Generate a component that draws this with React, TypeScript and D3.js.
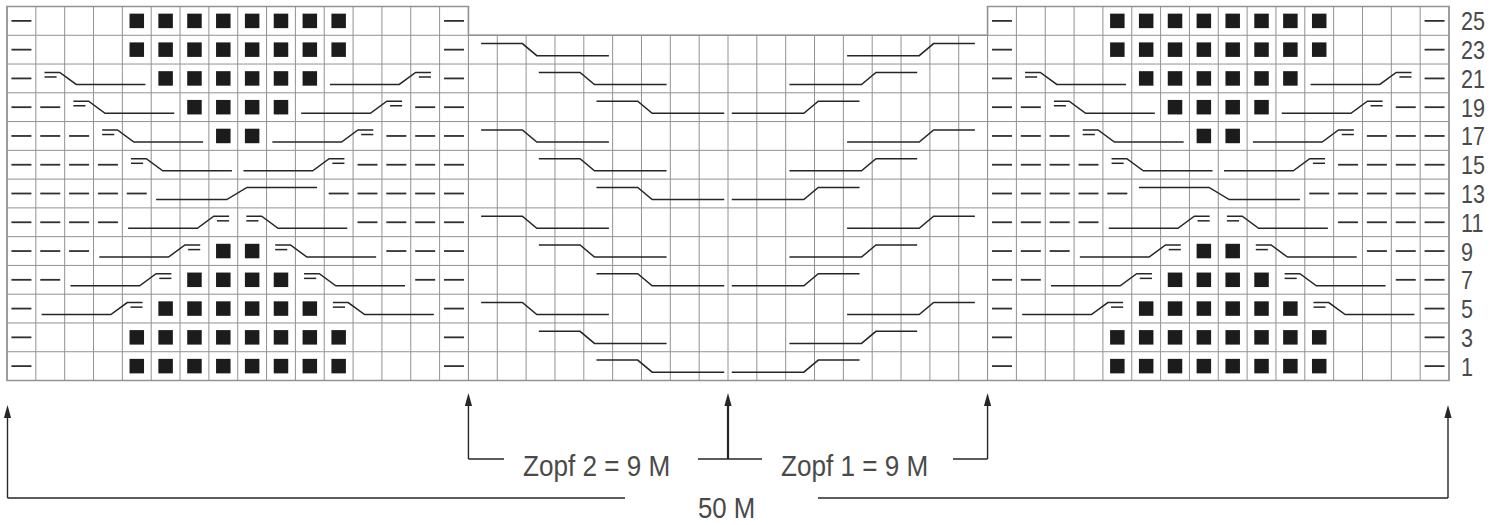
import * as d3 from "d3";

// chart row numbers, top row first
const rowNumbers = [25, 23, 21, 19, 17, 15, 13, 11, 9, 7, 5, 3, 1];

// side panels (16 st), top row first.
// "-" purl, "#" black square, D/A = 4-st cable down/up,
// U/V = 6-st cable up/down, "." = cell covered by the cable
const leftPanel = [
  "-   ########   -",
  "-   ########   -",
  "-D...######A...-",
  "--D...####A...--",
  "---D...##A...---",
  "----D...A...----",
  "-----U.....-----",
  "----A...D...----",
  "---A...##D...---",
  "--A...####D...--",
  "-A...######D...-",
  "-   ########   -",
  "-   ########   -",
];

const rightPanel = [
  "-   ########   -",
  "-   ########   -",
  "-D...######A...-",
  "--D...####A...--",
  "---D...##A...---",
  "----D...A...----",
  "-----V.....-----",
  "----A...D...----",
  "---A...##D...---",
  "--A...####D...--",
  "-A...######D...-",
  "-   ########   -",
  "-   ########   -",
];

// centre (Zopf 2 + Zopf 1, 18 st), rows 23..1; d/a = 5-st cable down/up
const centerPanel = [
  "d....        a....",
  "  d....    a....  ",
  "    d....a....    ",
  "d....        a....",
  "  d....    a....  ",
  "    d....a....    ",
  "d....        a....",
  "  d....    a....  ",
  "    d....a....    ",
  "d....        a....",
  "  d....    a....  ",
  "    d....a....    ",
];

const panelStartCols = [0, 16, 34];
const totalStitches = 50;
const zopfLabels = ["Zopf 2 = 9 M", "Zopf 1 = 9 M"];
const totalLabel = "50 M";

const WIDTH = 1504;
const HEIGHT = 525;
const GRID = { left: 7, right: 1449, top: 6.5, bottom: 380.5 };
const GRID_COLOR = "#929292";
const INK = "#262626";
const TEXT = "#4a4a4a";
const FONT = "'Liberation Sans', Arial, Helvetica, sans-serif";

type Shape = { n: number; s: number; p: number; q: number; e: number; dbl: boolean };
const SHAPES: Record<string, Shape> = {
  purl4: { n: 4, s: 0.3, p: 0.83, q: 1.4, e: 3.8, dbl: true },
  twist5: { n: 5, s: 0.44, p: 1.87, q: 2.37, e: 4.87, dbl: false },
  cross6: { n: 6, s: 0.25, p: 2.68, q: 3.38, e: 5.83, dbl: false },
};
const CABLE_KEYS: Record<string, [Shape, "down" | "up"]> = {
  D: [SHAPES.purl4, "down"],
  A: [SHAPES.purl4, "up"],
  d: [SHAPES.twist5, "down"],
  a: [SHAPES.twist5, "up"],
  V: [SHAPES.cross6, "down"],
  U: [SHAPES.cross6, "up"],
};

const x = d3.scaleLinear().domain([0, totalStitches]).range([GRID.left, GRID.right]);
const y = d3
  .scaleBand<number>()
  .domain(rowNumbers)
  .range([GRID.top, GRID.bottom])
  .padding(0);
const rowH = y.bandwidth();
const line = d3.line<[number, number]>();

function Arrow({ ax, tipY, baseY, width = 1.4 }: { ax: number; tipY: number; baseY: number; width?: number }) {
  return (
    <g>
      <line x1={ax} x2={ax} y1={baseY} y2={tipY + 8} stroke={INK} strokeWidth={width} />
      <path d={`M${ax},${tipY} L${ax - 3.6},${tipY + 13} L${ax + 3.6},${tipY + 13} Z`} fill={INK} />
    </g>
  );
}

function PanelMarks({ rows, startCol, rowList }: { rows: string[]; startCol: number; rowList: number[] }) {
  const w = x(1) - x(0);
  const sq = 14.5;
  const marks: JSX.Element[] = [];
  rows.forEach((row, ri) => {
    const rn = rowList[ri];
    const top = y(rn) as number;
    const cy = top + rowH / 2;
    row.split("").forEach((ch, ci) => {
      const c = startCol + ci;
      const key = `${rn}-${c}`;
      if (ch === "-") {
        const cx = x(c + 0.5);
        marks.push(
          <line key={key} x1={cx - 10} x2={cx + 10} y1={cy} y2={cy} stroke="#303030" strokeWidth={1.8} />
        );
      } else if (ch === "#") {
        const cx = x(c + 0.5);
        marks.push(
          <rect key={key} x={cx - sq / 2} y={cy - sq / 2} width={sq} height={sq} fill="#1c1c1c" />
        );
      } else if (CABLE_KEYS[ch]) {
        const [sh, dir] = CABLE_KEYS[ch];
        const yu = top + rowH * 0.29;
        const yl = top + rowH * 0.71;
        const y2 = top + rowH * 0.45;
        let pts: [number, number][];
        let dbl: [number, number][] | null = null;
        if (dir === "down") {
          pts = [
            [x(c + sh.s), yu],
            [x(c + sh.p), yu],
            [x(c + sh.q), yl],
            [x(c + sh.e), yl],
          ];
          if (sh.dbl) dbl = [[x(c + sh.s), y2], [x(c + sh.s) + 0.42 * w, y2]];
        } else {
          pts = [
            [x(c + sh.n - sh.e), yl],
            [x(c + sh.n - sh.q), yl],
            [x(c + sh.n - sh.p), yu],
            [x(c + sh.n - sh.s), yu],
          ];
          if (sh.dbl) dbl = [[x(c + sh.n - sh.s) - 0.42 * w, y2], [x(c + sh.n - sh.s), y2]];
        }
        marks.push(
          <g key={key}>
            <path d={line(pts) || ""} fill="none" stroke={INK} strokeWidth={1.5} />
            {dbl && <path d={line(dbl) || ""} fill="none" stroke={INK} strokeWidth={1.5} />}
          </g>
        );
      }
    });
  });
  return <g>{marks}</g>;
}

export default function App() {
  const centerRows = rowNumbers.slice(1);
  const sideCols = [
    [panelStartCols[0], panelStartCols[1]],
    [panelStartCols[2], totalStitches],
  ];
  const yTop = GRID.top;
  const yCenterTop = y(23) as number;
  const yBottom = GRID.bottom;

  const gridLines: JSX.Element[] = [];
  sideCols.forEach(([c0, c1], pi) => {
    d3.range(c0, c1 + 1).forEach((c) =>
      gridLines.push(
        <line key={`sv${pi}-${c}`} x1={x(c)} x2={x(c)} y1={yTop} y2={yBottom} stroke={GRID_COLOR} strokeWidth={1} />
      )
    );
    rowNumbers.forEach((rn) =>
      gridLines.push(
        <line key={`sh${pi}-${rn}`} x1={x(c0)} x2={x(c1)} y1={y(rn)} y2={y(rn)} stroke={GRID_COLOR} strokeWidth={1} />
      )
    );
  });
  d3.range(panelStartCols[1], panelStartCols[2] + 1).forEach((c) =>
    gridLines.push(
      <line key={`cv-${c}`} x1={x(c)} x2={x(c)} y1={yCenterTop} y2={yBottom} stroke={GRID_COLOR} strokeWidth={1} />
    )
  );
  centerRows.forEach((rn) =>
    gridLines.push(
      <line key={`ch-${rn}`} x1={x(panelStartCols[1])} x2={x(panelStartCols[2])} y1={y(rn)} y2={y(rn)} stroke={GRID_COLOR} strokeWidth={1} />
    )
  );

  const outline = [
    `M${x(0)},${yTop}`,
    `H${x(panelStartCols[1])}`,
    `V${yCenterTop}`,
    `H${x(panelStartCols[2])}`,
    `V${yTop}`,
    `H${x(totalStitches)}`,
    `V${yBottom}`,
    `H${x(0)}`,
    "Z",
  ].join(" ");

  const zopfTip = 393;
  const outerTip = 405;
  const bracketY = 459;
  const totalY = 498;
  const xL = x(panelStartCols[1]);
  const xM = x(totalStitches / 2);
  const xR = x(panelStartCols[2]);

  return (
    <div>
      <style>{`body{margin:0;background:#fff}`}</style>
      <svg width={WIDTH} height={HEIGHT} style={{ display: "block" }} fontFamily={FONT}>
        <rect width={WIDTH} height={HEIGHT} fill="#fff" />
        {gridLines}
        <path d={outline} fill="none" stroke={GRID_COLOR} strokeWidth={1.6} />

        <PanelMarks rows={leftPanel} startCol={panelStartCols[0]} rowList={rowNumbers} />
        <PanelMarks rows={centerPanel} startCol={panelStartCols[1]} rowList={centerRows} />
        <PanelMarks rows={rightPanel} startCol={panelStartCols[2]} rowList={rowNumbers} />

        {rowNumbers.map((rn) => (
          <text
            key={`lab-${rn}`}
            transform={`translate(1461,${(y(rn) as number) + rowH / 2 + 9.5}) scale(0.83,1)`}
            fontSize={26}
            fill={TEXT}
          >
            {rn}
          </text>
        ))}

        {/* Zopf brackets */}
        <Arrow ax={xL} tipY={zopfTip} baseY={bracketY} />
        <line x1={xL} x2={504} y1={bracketY} y2={bracketY} stroke={INK} strokeWidth={1.4} />
        <text transform={`translate(523,476) scale(0.87,1)`} fontSize={30} fill={TEXT}>
          {zopfLabels[0]}
        </text>
        <line x1={698} x2={762} y1={bracketY} y2={bracketY} stroke={INK} strokeWidth={1.4} />
        <Arrow ax={xM} tipY={zopfTip} baseY={bracketY} width={2.2} />
        <text transform={`translate(781,476) scale(0.87,1)`} fontSize={30} fill={TEXT}>
          {zopfLabels[1]}
        </text>
        <line x1={953} x2={xR} y1={bracketY} y2={bracketY} stroke={INK} strokeWidth={1.4} />
        <Arrow ax={xR} tipY={zopfTip} baseY={bracketY} />

        {/* total width bracket */}
        <Arrow ax={x(0) + 0.5} tipY={outerTip} baseY={totalY} />
        <line x1={x(0) + 0.5} x2={625} y1={totalY} y2={totalY} stroke={INK} strokeWidth={1.4} />
        <text transform={`translate(698,518) scale(0.86,1)`} fontSize={30} fill={TEXT}>
          {totalLabel}
        </text>
        <line x1={818} x2={x(totalStitches) - 1} y1={totalY} y2={totalY} stroke={INK} strokeWidth={1.4} />
        <Arrow ax={x(totalStitches) - 1} tipY={outerTip} baseY={totalY} />
      </svg>
    </div>
  );
}
